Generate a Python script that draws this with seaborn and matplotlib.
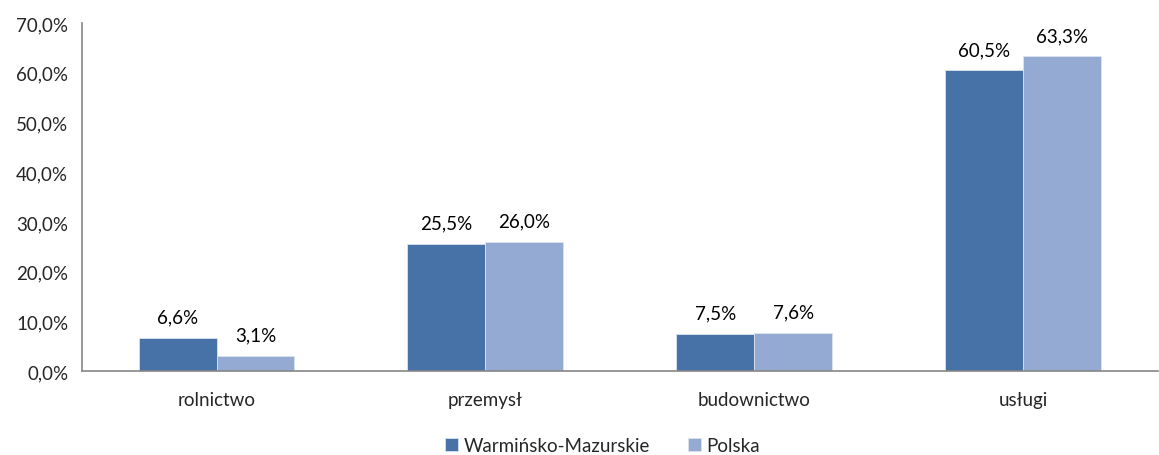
import pandas as pd
import matplotlib
matplotlib.use('Agg')
import matplotlib.pyplot as plt
import seaborn as sns

categories = ['rolnictwo', 'przemysł', 'budownictwo', 'usługi']
series_names = ['Warmińsko-Mazurskie', 'Polska']
warminsko = [6.6, 25.5, 7.5, 60.5]
polska = [3.1, 26.0, 7.6, 63.3]
yticks = [0, 10, 20, 30, 40, 50, 60, 70]

colors = ['#4672A8', '#95AAD2']

df = pd.DataFrame({
    'kategoria': categories * 2,
    'seria': [series_names[0]] * 4 + [series_names[1]] * 4,
    'wartosc': warminsko + polska,
})

sns.set_style('white')
plt.rcParams['font.family'] = ['Lato', 'DejaVu Sans']
plt.rcParams['font.size'] = 13.5

fig = plt.figure(figsize=(11.59, 4.56), dpi=100)
ax = fig.add_axes([0.0708, 0.184, 0.928, 0.763])

sns.barplot(data=df, x='kategoria', y='wartosc', hue='seria', palette=colors,
            saturation=1, width=0.58, gap=0, ax=ax, legend=True,
            edgecolor='#dce3ee', linewidth=0.6)

for container in ax.containers:
    labels = [f'{v:.1f}%'.replace('.', ',') for v in container.datavalues]
    ax.bar_label(container, labels=labels, padding=9, fontsize=13.5, color='#000000')

ax.set_ylim(0, 70)
ax.set_xlim(-0.5, 3.5)
ax.set_yticks(yticks)
ax.set_yticklabels([f'{t:.1f}%'.replace('.', ',') for t in yticks])
ax.set_xticks(range(len(categories)))
ax.set_xticks([i - 0.5 for i in range(len(categories) + 1)], minor=True)
ax.tick_params(axis='x', which='major', length=0, pad=14)
ax.tick_params(axis='x', which='minor', length=6, color='#868686', direction='out')
ax.tick_params(axis='y', length=6, color='#868686', direction='out', pad=4)
ax.set_xlabel('')
ax.set_ylabel('')

for side in ['top', 'right']:
    ax.spines[side].set_visible(False)
for side in ['left', 'bottom']:
    ax.spines[side].set_color('#868686')
    ax.spines[side].set_linewidth(1.2)

handles, labels = ax.get_legend_handles_labels()
ax.get_legend().remove()
fig.legend(handles, labels, loc='center', bbox_to_anchor=(0.52, 0.02), ncol=2,
           frameon=False, handlelength=0.7, handleheight=0.7, handletextpad=0.3,
           columnspacing=2.0, fontsize=13.5)

fig.savefig('out.png', dpi=100)
